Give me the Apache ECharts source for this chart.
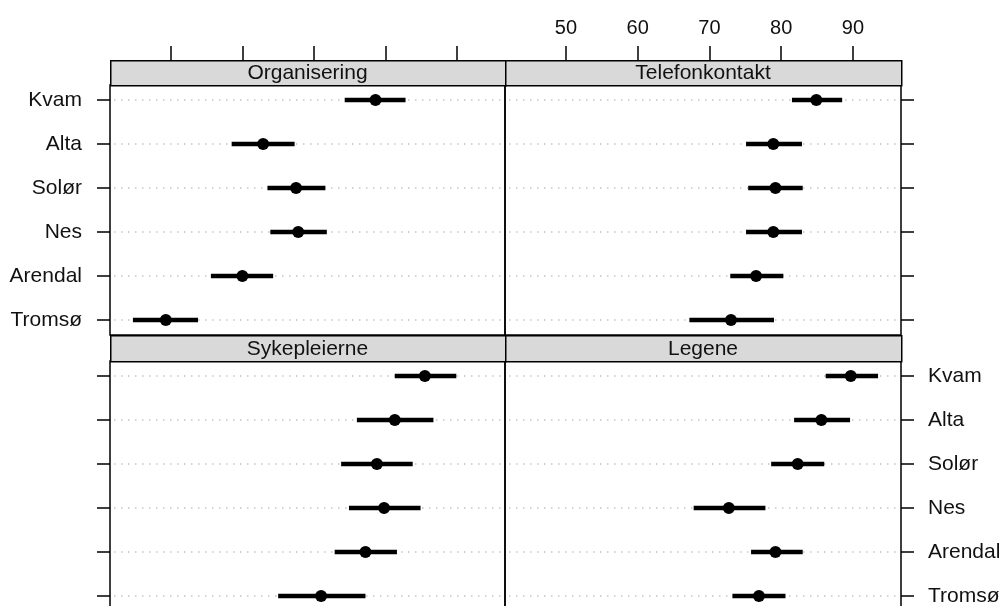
<!DOCTYPE html>
<html>
<head>
<meta charset="utf-8">
<script src="https://cdn.jsdelivr.net/npm/echarts@6/dist/echarts.min.js"></script>
<style>
html,body{margin:0;padding:0;background:#fff;}
#chart{width:1001px;height:606px;}
</style>
</head>
<body>
<div id="chart"></div>
<script>
// ---- data ----
const cities = ['Kvam', 'Alta', 'Solør', 'Nes', 'Arendal', 'Tromsø'];
const panelTitles = ['Organisering', 'Telefonkontakt', 'Sykepleierne', 'Legene'];
const xTicks = [50, 60, 70, 80, 90];

const orgMean = [78.6, 62.9, 67.5, 67.8, 60.0, 49.3];
const orgLow  = [74.3, 58.5, 63.5, 63.9, 55.6, 44.7];
const orgHigh = [82.8, 67.3, 71.6, 71.8, 64.3, 53.8];

const telMean = [84.9, 78.9, 79.2, 78.9, 76.5, 73.0];
const telLow  = [81.5, 75.1, 75.4, 75.1, 72.9, 67.2];
const telHigh = [88.5, 82.9, 83.0, 82.9, 80.3, 79.0];

const sykMean = [85.5, 81.3, 78.8, 79.8, 77.2, 71.0];
const sykLow  = [81.3, 76.0, 73.8, 74.9, 72.9, 65.0];
const sykHigh = [89.9, 86.7, 83.8, 84.9, 81.6, 77.2];

const legMean = [89.7, 85.6, 82.3, 72.7, 79.2, 76.9];
const legLow  = [86.2, 81.8, 78.6, 67.8, 75.8, 73.2];
const legHigh = [93.5, 89.6, 86.0, 77.8, 83.0, 80.6];

// ---- layout ----
const FONT = '"Liberation Sans", Arial, sans-serif';
const colL = 110, colR = 505, colW = 395, colW2 = 396;
const stripTops = [60, 335];
const rowTops = [85, 361];
const panelH = 250;
const yTickVals = [1, 2, 3, 4, 5, 6];
const xMin = 41.5, xMax = 96.7;

const panelData = [
  [orgMean, orgLow, orgHigh],
  [telMean, telLow, telHigh],
  [sykMean, sykLow, sykHigh],
  [legMean, legLow, legHigh]
];

const grids = [], xAxes = [], yAxes = [], series = [], graphics = [];

panelData.forEach((pd, k) => {
  const col = k % 2, row = Math.floor(k / 2);
  const left = col === 0 ? colL : colR;
  const width = col === 0 ? colW : colW2;
  const top = rowTops[row];
  const sTop = stripTops[row];
  const sH = top - sTop;
  grids.push({
    left: left, top: top, width: width, height: panelH,
    show: true, borderColor: '#000', borderWidth: 1.5, backgroundColor: 'transparent',
    containLabel: false, outerBoundsMode: 'none'
  });
  const topRow = row === 0;
  xAxes.push({
    gridIndex: k, type: 'value', min: xMin, max: xMax,
    show: topRow, position: 'top', offset: sH,
    axisLine: { show: false },
    axisTick: { show: true, inside: false, length: 14, customValues: xTicks,
      lineStyle: { color: '#000', width: 1.5 } },
    axisLabel: { show: topRow && col === 1, customValues: xTicks, margin: 22,
      fontSize: 20, fontFamily: FONT, color: '#111' },
    splitLine: { show: false }
  });
  const showLab = (k === 0 || k === 3);
  yAxes.push({
    gridIndex: k, type: 'value', min: 0.66, max: 6.34,
    position: col === 0 ? 'left' : 'right',
    axisLine: { show: false },
    axisTick: { show: true, inside: false, length: 13, customValues: yTickVals,
      lineStyle: { color: '#000', width: 1.5 } },
    axisLabel: { show: showLab, customValues: yTickVals, margin: col === 0 ? 28 : 27,
      fontSize: 21, fontFamily: FONT, color: '#111',
      formatter: v => cities[6 - v] },
    splitLine: { show: false }
  });
  const data = cities.map((c, i) => [pd[0][i], pd[1][i], pd[2][i], 6 - i]);
  series.push({
    type: 'custom', xAxisIndex: k, yAxisIndex: k, data: data,
    encode: { x: [0, 1, 2], y: 3 },
    clip: false,
    renderItem: function (params, api) {
      const y = api.value(3);
      const pm = api.coord([api.value(0), y]);
      const pl = api.coord([api.value(1), y]);
      const ph = api.coord([api.value(2), y]);
      const cs = params.coordSys;
      return {
        type: 'group',
        children: [
          { type: 'line', shape: { x1: cs.x + 4, y1: pm[1], x2: cs.x + cs.width - 4, y2: pm[1] },
            style: { stroke: '#c4c4c4', lineWidth: 1.5, lineDash: [1.5, 5.5] } },
          { type: 'line', shape: { x1: pl[0], y1: pl[1], x2: ph[0], y2: ph[1] },
            style: { stroke: '#000', lineWidth: 4.5, lineCap: 'butt' } },
          { type: 'circle', shape: { cx: pm[0], cy: pm[1], r: 6 },
            style: { fill: '#000' } }
        ]
      };
    }
  });
  graphics.push({
    type: 'rect', left: left, top: sTop,
    shape: { width: width, height: sH },
    style: { fill: '#d9d9d9', stroke: '#000', lineWidth: 1.5 }, z: 10
  });
  graphics.push({
    type: 'text', x: left + width / 2, y: sTop + sH / 2 + 1,
    style: { text: panelTitles[k], font: '21px ' + FONT, fill: '#111',
      textAlign: 'center', textVerticalAlign: 'middle' }, z: 11
  });
});

const chart = echarts.init(document.getElementById('chart'), null, { renderer: 'canvas' });
chart.setOption({
  animation: false,
  backgroundColor: '#fff',
  grid: grids,
  xAxis: xAxes,
  yAxis: yAxes,
  series: series,
  graphic: graphics
});
</script>
</body>
</html>
